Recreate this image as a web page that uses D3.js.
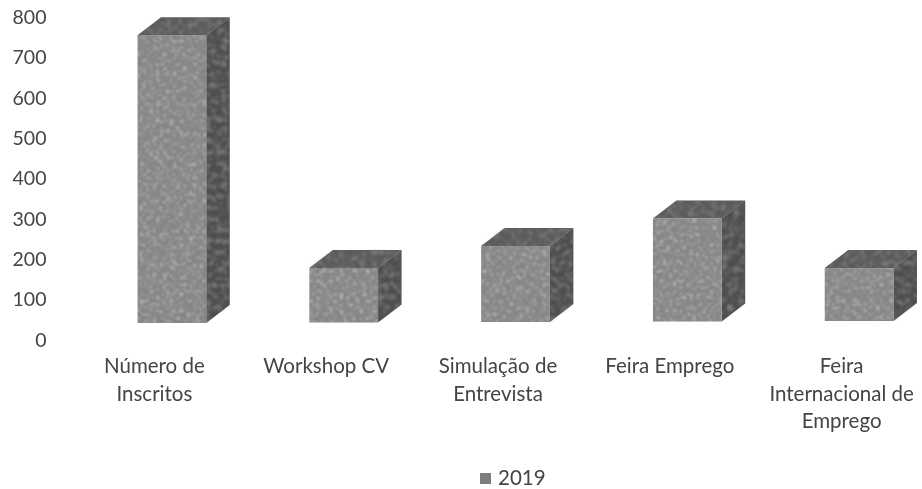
<!DOCTYPE html>
<html><head><meta charset="utf-8">
<script src="https://cdn.jsdelivr.net/npm/d3@7"></script>
<style>
html,body{margin:0;padding:0;background:#fff}
svg{display:block}
text{font-family:Lato,"Open Sans",sans-serif;fill:#444;font-size:20.5px}
</style></head><body>
<script>
const categories=[["Número de","Inscritos"],["Workshop CV"],["Simulação de","Entrevista"],["Feira Emprego"],["Feira","Internacional de","Emprego"]];
const values2019=[713,135,188,255,131];
const yTicks=[0,100,200,300,400,500,600,700,800];
const seriesName="2019";

const W=922,H=489;
const depthX=23.5,depthY=18,floorLift=17;
const svg=d3.select("body").append("svg").attr("width",W).attr("height",H);
const defs=svg.append("defs");
const f=defs.append("filter").attr("id","speck").attr("x","0").attr("y","0").attr("width","1").attr("height","1");
f.append("feTurbulence").attr("type","fractalNoise").attr("baseFrequency","0.3").attr("numOctaves",2).attr("seed",7).attr("result","n");
f.append("feColorMatrix").attr("in","n").attr("type","matrix")
 .attr("values","0 0 0 0 0.72  0 0 0 0 0.72  0 0 0 0 0.72  2.0 0 0 0 -1.05").attr("result","spots");
f.append("feComposite").attr("in","spots").attr("in2","SourceGraphic").attr("operator","in").attr("result","s");
f.append("feGaussianBlur").attr("in","s").attr("stdDeviation","0.9").attr("result","sb");
f.append("feMerge").selectAll("feMergeNode").data(["SourceGraphic","sb"]).join("feMergeNode").attr("in",d=>d);
const dark=defs.append("filter").attr("id","speckDark").attr("x","0").attr("y","0").attr("width","1").attr("height","1");
dark.append("feTurbulence").attr("type","fractalNoise").attr("baseFrequency","0.18").attr("numOctaves",2).attr("seed",11).attr("result","n");
dark.append("feColorMatrix").attr("in","n").attr("type","matrix")
 .attr("values","0 0 0 0 0.24  0 0 0 0 0.24  0 0 0 0 0.24  2 0 0 0 -0.9").attr("result","spots");
dark.append("feComposite").attr("in","spots").attr("in2","SourceGraphic").attr("operator","in").attr("result","s");
dark.append("feGaussianBlur").attr("in","s").attr("stdDeviation","1").attr("result","sb");
dark.append("feMerge").selectAll("feMergeNode").data(["SourceGraphic","sb"]).join("feMergeNode").attr("in",d=>d);
const soft=defs.append("filter").attr("id","soft");
soft.append("feGaussianBlur").attr("stdDeviation","0.4");

const idx=d3.range(categories.length);
const x=d3.scaleBand().domain(idx).range([86,945]).paddingInner(0.6).paddingOuter(0.3);
const y=d3.scaleLinear().domain([0,800]).range([340,17]);

const gy=svg.append("g").attr("transform","translate(46.5,0)").attr("filter","url(#soft)")
 .call(d3.axisLeft(y).tickValues(yTicks).tickSize(0).tickPadding(0).tickFormat(d3.format("d")));
gy.select(".domain").remove();
gy.selectAll("text").attr("x",0).style("font-family",'Lato,"Open Sans",sans-serif').style("font-size","19.5px").style("fill","#444");

const bars=svg.append("g").selectAll("g").data(values2019).join("g").attr("filter","url(#soft)");
const L=(d,i)=>x(i), R=(d,i)=>x(i)+x.bandwidth();
const B=(d,i)=>y(0)-floorLift-i*0.5;
const T=(d,i)=>B(d,i)-(y(0)-y(d));
const poly=(pts)=>"M"+pts.map(p=>p.join(",")).join("L")+"Z";
bars.append("path").attr("fill","#5c5c5c").attr("filter","url(#speckDark)")
 .attr("d",(d,i)=>poly([[L(d,i),T(d,i)],[R(d,i),T(d,i)],[R(d,i)+depthX,T(d,i)-depthY],[L(d,i)+depthX,T(d,i)-depthY]]));
bars.append("path").attr("fill","#4f4f4f").attr("filter","url(#speckDark)")
 .attr("d",(d,i)=>poly([[R(d,i),T(d,i)],[R(d,i)+depthX,T(d,i)-depthY],[R(d,i)+depthX,B(d,i)-depthY],[R(d,i),B(d,i)]]));
bars.append("rect").attr("fill","#868686").attr("filter","url(#speck)")
 .attr("x",(d,i)=>L(d,i)).attr("y",(d,i)=>T(d,i)).attr("width",x.bandwidth()).attr("height",(d,i)=>B(d,i)-T(d,i));

const labels=svg.append("g").attr("filter","url(#soft)").selectAll("text").data(categories).join("text")
 .attr("text-anchor","middle")
 .attr("transform",(d,i)=>`translate(${x(i)+x.bandwidth()/2-17.5},373)`);
labels.selectAll("tspan").data(d=>d).join("tspan").attr("x",0).attr("y",(d,i)=>i*27.5).text(d=>d);

const lg=svg.append("g").attr("filter","url(#soft)");
lg.append("rect").attr("x",480).attr("y",473).attr("width",11).attr("height",11).attr("fill","#7d7d7d");
lg.append("text").attr("x",498).attr("y",485).style("font-size","20.5px").text(seriesName);
</script>
</body></html>
